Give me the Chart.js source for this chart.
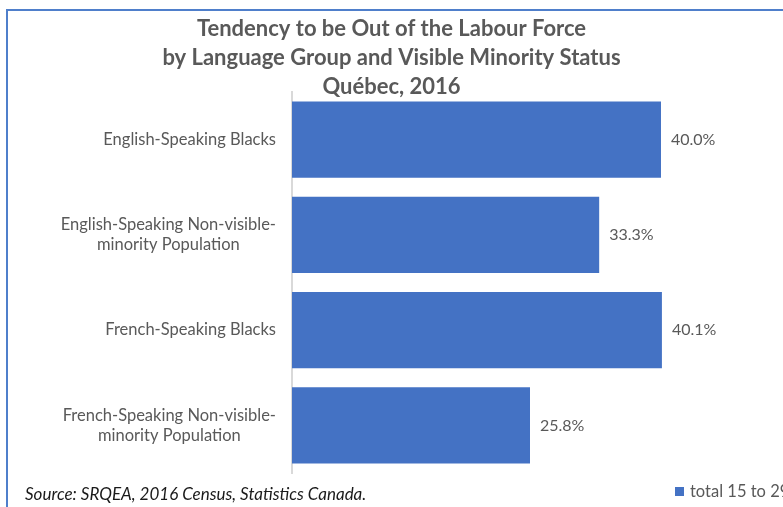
<!DOCTYPE html>
<html>
<head>
<meta charset="utf-8">
<script src="https://cdn.jsdelivr.net/npm/chart.js@4.4.1/dist/chart.umd.min.js"></script>
<style>
	html, body { margin: 0; padding: 0; background: #fff; overflow: hidden; }
	#wrap { position: relative; width: 783px; height: 507px; }
</style>
</head>
<body>
<div id="wrap"><canvas id="myChart"></canvas></div>
<script>
var categories = [
	["English-Speaking Blacks"],
	["English-Speaking Non-visible-", "minority Population"],
	["French-Speaking Blacks"],
	["French-Speaking Non-visible-", "minority Population"],
]
var values = [40.0, 33.3, 40.1, 25.8]
var seriesName = "total 15 to 29"
var titleLines = ["Tendency to be Out of the Labour Force", "by Language Group and Visible Minority Status", "Québec, 2016"]
var sourceNote = "Source: SRQEA, 2016 Census, Statistics Canada."

var grey = "#595959"
var barBlue = "#4472C4"

// frame, category labels, value labels, source note and legend key
var extras = {
	id: "extras",
	beforeDraw: function (chart) {
		var c = chart.ctx
		c.save()
		c.strokeStyle = "#4f7fcb"
		c.lineWidth = 2
		c.strokeRect(7, 10, 900, 600)
		c.restore()
	},
	afterDraw: function (chart) {
		var c = chart.ctx
		var y = chart.scales.y
		var meta = chart.getDatasetMeta(0)
		c.save()
		c.fillStyle = grey
		c.textBaseline = "middle"
		c.font = "16.5px Lato"
		categories.forEach(function (lines, i) {
			var cy = y.getPixelForValue(i)
			var w = Math.max.apply(null, lines.map(function (l) { return c.measureText(l).width }))
			var cx = 276 - w / 2
			c.textAlign = "center"
			lines.forEach(function (l, k) {
				c.fillText(l, cx, cy + (k - (lines.length - 1) / 2) * 20)
			})
		})
		c.font = "16px Lato"
		c.textAlign = "left"
		meta.data.forEach(function (bar, i) {
			c.fillText(values[i].toFixed(1) + "%", bar.x + 10, bar.y)
		})
		c.fillStyle = "#1a1a1a"
		c.font = "italic 17px Lato"
		c.fillText(sourceNote, 25, 495)
		c.fillStyle = barBlue
		c.fillRect(675, 487, 9, 9)
		c.fillStyle = grey
		c.font = "16.5px Lato"
		c.fillText(seriesName, 690, 492)
		c.restore()
	},
}

var ctx = document.getElementById("myChart").getContext("2d")
var myChart = new Chart(ctx, {
	type: "bar",
	data: {
		labels: categories,
		datasets: [
			{
				label: seriesName,
				data: values,
				backgroundColor: barBlue,
				borderWidth: 0,
				categoryPercentage: 0.8,
				barPercentage: 1,
			},
		],
	},
	options: {
		indexAxis: "y",
		responsive: true,
		maintainAspectRatio: false,
		animation: false,
		layout: {
			padding: {left: 15, right: 15, top: 0, bottom: 34},
		},
		scales: {
			x: {
				display: false,
				min: 0,
				max: 51.6,
			},
			y: {
				ticks: {display: false},
				grid: {display: false},
				border: {display: true, color: "#d9d9d9", width: 2},
				afterFit: function (s) {
					s.width = 277
				},
			},
		},
		plugins: {
			legend: {display: false},
			tooltip: {enabled: false},
			title: {
				display: true,
				text: titleLines,
				color: grey,
				font: {family: "Lato", size: 22, weight: "bold", lineHeight: 29 / 22},
				padding: {top: 14.5, bottom: -9.5},
			},
		},
	},
	plugins: [extras],
})
</script>
</body>
</html>
